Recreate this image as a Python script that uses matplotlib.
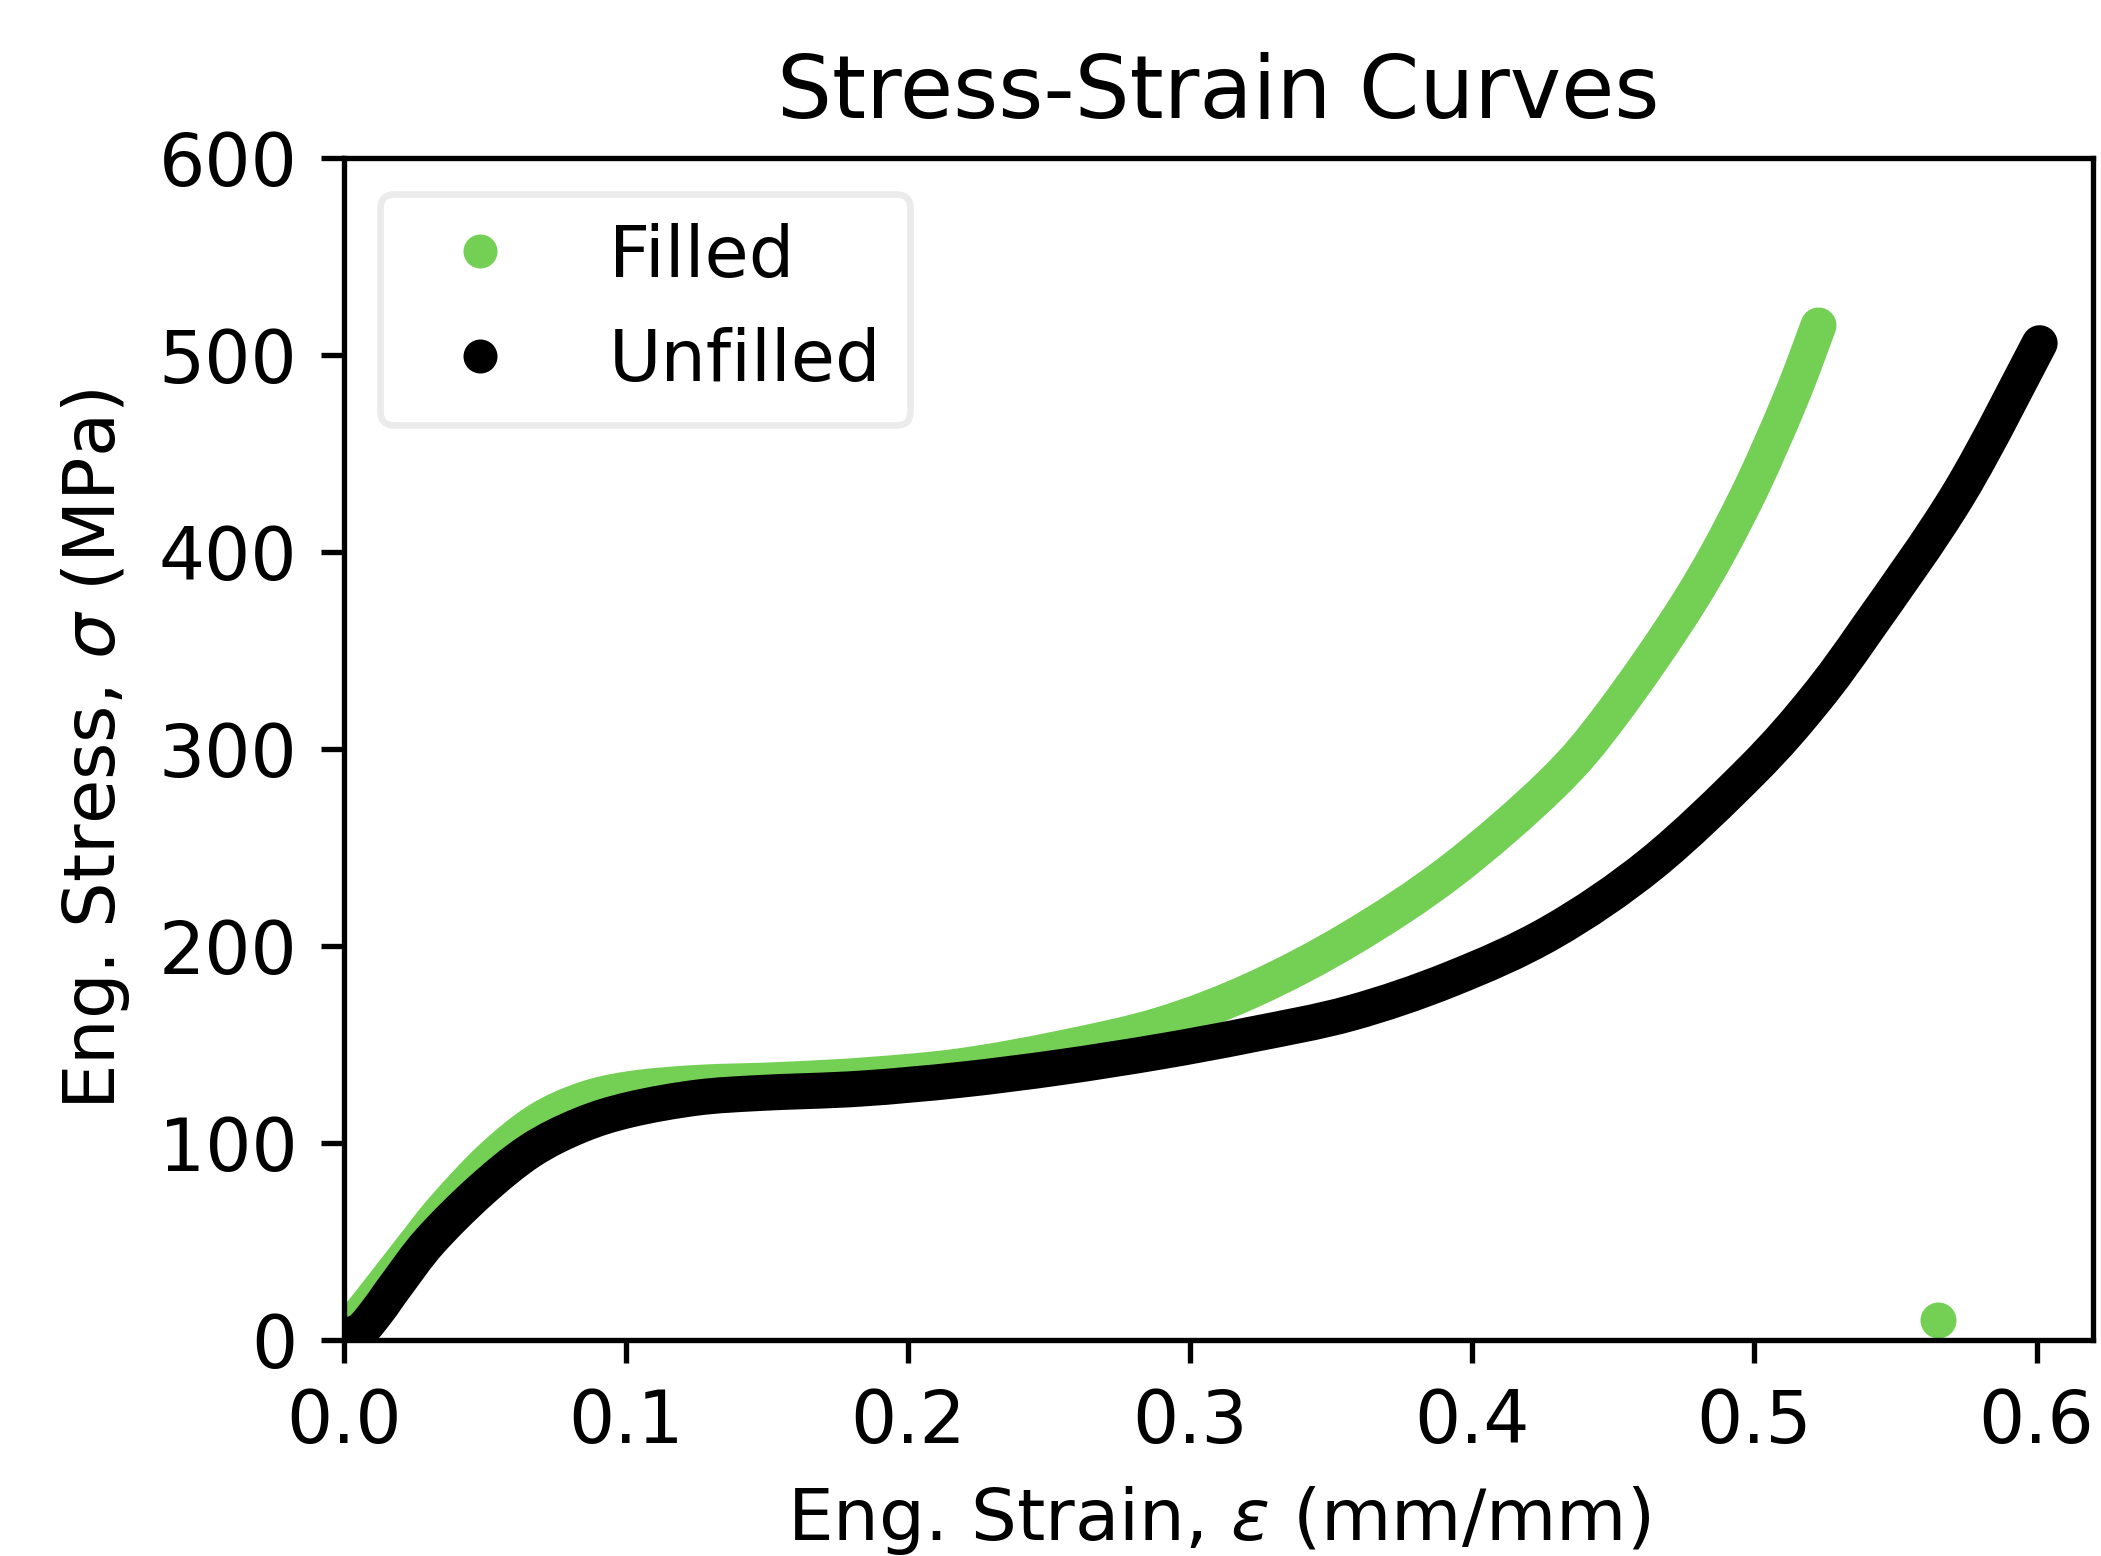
import matplotlib
matplotlib.use("Agg")
import matplotlib.pyplot as plt
from matplotlib.lines import Line2D
from matplotlib.path import Path
from matplotlib.patches import PathPatch

# ---- data ----
filled_strain = [0.0, 0.008, 0.0238, 0.0355, 0.052, 0.0685, 0.085, 0.102, 0.125,
                 0.155, 0.186, 0.2186, 0.254, 0.2896, 0.3225, 0.357, 0.3925,
                 0.428, 0.4496, 0.477, 0.4963, 0.5123, 0.5227]
filled_stress = [3, 17, 46, 67, 92, 111, 122, 127.5, 130.5,
                 132, 134.5, 139, 148, 160, 178, 204, 238,
                 282, 318, 375, 425, 476, 515]
filled_break_strain = [0.565]
filled_break_stress = [10]

unfilled_strain = [0.0, 0.006, 0.012, 0.0187, 0.0305, 0.0483, 0.066, 0.0837, 0.1015,
                   0.125, 0.1476, 0.1831, 0.2186, 0.254, 0.2896, 0.3215, 0.357,
                   0.3925, 0.428, 0.4635, 0.499, 0.5214, 0.5404, 0.5726, 0.6011]
unfilled_stress = [2, 5, 15, 28.3, 50.3, 75.7, 96, 109, 117,
                   123, 125.4, 127.6, 132.1, 138.5, 146.5, 155, 166,
                   183.3, 207, 241.8, 289, 325, 362, 430, 506]

x_ticks = [0.0, 0.1, 0.2, 0.3, 0.4, 0.5, 0.6]
y_ticks = [0, 100, 200, 300, 400, 500, 600]
series_labels = ["Filled", "Unfilled"]

GREEN = "#73D055"
BLACK = "#000000"


def smooth_path(xs, ys):
    """Catmull-Rom curve through the data points, as cubic Bezier segments."""
    pts = list(zip(xs, ys))
    n = len(pts)
    verts = [pts[0]]
    codes = [Path.MOVETO]
    for i in range(n - 1):
        p0 = pts[i - 1] if i > 0 else pts[i]
        p1 = pts[i]
        p2 = pts[i + 1]
        p3 = pts[i + 2] if i + 2 < n else pts[i + 1]
        c1 = (p1[0] + (p2[0] - p0[0]) / 6.0, p1[1] + (p2[1] - p0[1]) / 6.0)
        c2 = (p2[0] - (p3[0] - p1[0]) / 6.0, p2[1] - (p3[1] - p1[1]) / 6.0)
        verts += [c1, c2, p2]
        codes += [Path.CURVE4, Path.CURVE4, Path.CURVE4]
    return Path(verts, codes)


DPI = 480
fig = plt.figure(figsize=(2101 / DPI, 1556 / DPI), dpi=DPI)
ax = fig.add_axes([344 / 2101, 1 - 1340 / 1556, 1749 / 2101, 1182 / 1556])

LW = 5.4
for xs, ys, col, z in [(filled_strain, filled_stress, GREEN, 2),
                       (unfilled_strain, unfilled_stress, BLACK, 3)]:
    patch = PathPatch(smooth_path(xs, ys), facecolor="none", edgecolor=col,
                      lw=LW, capstyle="round", joinstyle="round",
                      transform=ax.transData, zorder=z)
    ax.add_patch(patch)
ax.plot(filled_break_strain, filled_break_stress, ls="none", marker="o",
        ms=LW, mew=0, color=GREEN, zorder=2)

ax.set_xlim(0, 0.62)
ax.set_ylim(0, 600)
ax.set_xticks(x_ticks)
ax.set_xticklabels([f"{v:.1f}" for v in x_ticks])
ax.set_yticks(y_ticks)
ax.set_yticklabels([str(v) for v in y_ticks])
ax.tick_params(labelsize=10.9)

ax.set_xlabel(r"Eng. Strain, $\varepsilon$ (mm/mm)", fontsize=10.85)
ax.set_ylabel(r"Eng. Stress, $\sigma$ (MPa)", fontsize=10.8)
ax.set_title("Stress-Strain Curves", fontsize=13.0)

handles = [Line2D([], [], ls="none", marker="o", ms=5.1, mew=0, color=GREEN),
           Line2D([], [], ls="none", marker="o", ms=5.1, mew=0, color=BLACK)]
leg = ax.legend(handles, series_labels, loc="upper left", fontsize=10.75)
leg.get_frame().set_edgecolor("0.9")

fig.savefig("out.png", dpi=DPI)
